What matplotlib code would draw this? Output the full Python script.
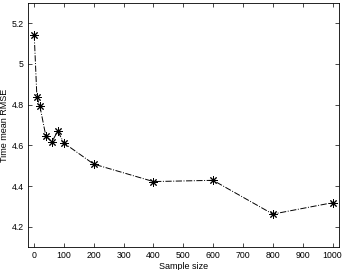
import matplotlib
matplotlib.use('Agg')
import matplotlib.pyplot as plt
from matplotlib.ticker import FormatStrFormatter

plt.rcParams['font.family'] = ['Liberation Sans', 'DejaVu Sans']

sample_size = [1, 10, 20, 40, 60, 80, 100, 200, 400, 600, 800, 1000]
rmse = [5.144, 4.837, 4.793, 4.645, 4.617, 4.67, 4.612, 4.508, 4.422, 4.428, 4.262, 4.318]

fig = plt.figure(figsize=(3.45, 2.7), dpi=100)
ax = fig.add_axes([0.081, 0.085, 0.902, 0.904])

# matlab style asterisk marker
ax.plot(sample_size, rmse, color='black', linestyle='-.', linewidth=0.7,
        marker=(8, 2, 0), markersize=6, markeredgewidth=0.7)

ax.set_xlim(-20, 1022)
ax.set_ylim(4.1, 5.3)
ax.set_xticks(range(0, 1001, 100))
ax.set_yticks([4.2, 4.4, 4.6, 4.8, 5.0, 5.2])
ax.yaxis.set_major_formatter(FormatStrFormatter('%g'))
ax.tick_params(direction='in', top=True, right=True, labelsize=6.3,
               length=3, width=0.5, pad=3)
for s in ax.spines.values():
    s.set_linewidth(0.6)

ax.set_xlabel('Sample size', fontsize=6.5, labelpad=1)
ax.set_ylabel('Time mean RMSE', fontsize=6.5, labelpad=2)

fig.savefig('out.png', dpi=100)
